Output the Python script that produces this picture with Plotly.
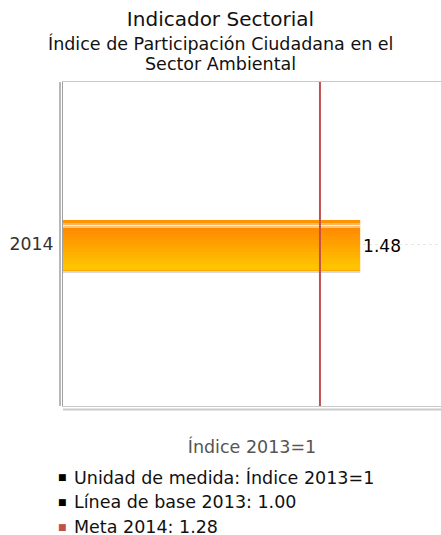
import plotly.graph_objects as go

# datos del indicador
years = ["2014"]
values = [1.48]
value_labels = ["1.48"]
meta_value = 1.28
axis_max = 1.883

title_main = "Indicador Sectorial"
title_sub = ["Índice de Participación Ciudadana en el", "Sector Ambiental"]
x_title = "Índice 2013=1"
notes = ["Unidad de medida: Índice 2013=1", "Línea de base 2013: 1.00", "Meta 2014: 1.28"]
note_colors = ["#000000", "#000000", "#c0504d"]

FONT = "DejaVu Sans"
BAR_W = 0.164
BAR_SHIFT = -0.0077


def mix(c1, c2, t):
    a = [int(c1[i:i + 2], 16) for i in (1, 3, 5)]
    b = [int(c2[i:i + 2], 16) for i in (1, 3, 5)]
    return "#%02x%02x%02x" % tuple(round(a[k] + (b[k] - a[k]) * t) for k in range(3))


# franjas de la barra (de arriba abajo), en pixeles de un total de 53
bands = [(4, "#ff9400"), (1, "#ffb860"), (2, "#fff2e0"), (1, "#ffc27a")]
n = 14
for i in range(n):
    bands.append((42 / n, mix("#ff8c00", "#ffc600", i / (n - 1))))
bands += [(1, "#ffa800"), (2, "#d9d9d9")]
total = sum(h for h, _ in bands)

fig = go.Figure()

# barra base con la etiqueta
fig.add_trace(go.Bar(
    x=values, y=years, orientation="h", width=BAR_W, offset=BAR_SHIFT - BAR_W / 2,
    marker=dict(color="#ffa500", line_width=0),
    text=value_labels, textposition="outside", cliponaxis=False,
    textfont=dict(family=FONT, size=17, color="#000000"),
    showlegend=False, hoverinfo="skip",
))

top = BAR_SHIFT + BAR_W / 2
for h, col in bands:
    w = BAR_W * h / total
    fig.add_trace(go.Bar(
        x=values, y=years, orientation="h", width=w, offset=top - w,
        marker=dict(color=col, line_width=0),
        showlegend=False, hoverinfo="skip",
    ))
    top -= w

fig.update_layout(
    width=441, height=535,
    margin=dict(l=63, r=0, t=82, b=129),
    barmode="overlay",
    plot_bgcolor="#ffffff", paper_bgcolor="#ffffff",
    font=dict(family=FONT, color="#333333"),
    showlegend=False,
    title=dict(text=title_main, x=0.5, xanchor="center", y=0.965, yanchor="middle",
               font=dict(family=FONT, size=20, color="#111111")),
)

fig.update_xaxes(
    range=[0, axis_max], showticklabels=False, ticks="", showgrid=False, zeroline=False,
    showline=True, mirror=True, linecolor="#c8c8c8", linewidth=1,
    title=dict(text=x_title, standoff=34, font=dict(family=FONT, size=17.5, color="#555555")),
)
fig.update_yaxes(
    range=[-0.5, 0.5], ticks="", showgrid=True, gridcolor="#e6e6e6", griddash="dot",
    showline=True, linecolor="#a0a0a0", linewidth=1, ticklabelstandoff=5,
    tickfont=dict(family=FONT, size=17.3, color="#333333"),
)

# línea de la meta
fig.add_vline(x=meta_value, line=dict(color="#c0504d", width=2), layer="above")

# bordes exteriores
fig.add_shape(type="line", xref="paper", yref="paper", xsizemode="pixel", xanchor=0,
              x0=-3, x1=-3, y0=0, y1=1, line=dict(color="#a0a0a0", width=1.5))
fig.add_shape(type="line", xref="paper", yref="paper", ysizemode="pixel", yanchor=0,
              x0=0, x1=1, y0=-3.5, y1=-3.5, line=dict(color="#cccccc", width=2))

# subtítulo
for i, line in enumerate(title_sub):
    fig.add_annotation(text=line, xref="paper", yref="paper", x=0.5 - 63 / 378 / 2,
                       xanchor="center", y=1, yanchor="middle", yshift=39 - 21 * i,
                       showarrow=False, font=dict(family=FONT, size=17.5, color="#111111"))

# notas
for i, (txt, col) in enumerate(zip(notes, note_colors)):
    fig.add_annotation(text="■", xref="paper", yref="paper", x=0, xanchor="left", xshift=-7,
                       y=0, yanchor="middle", yshift=-71 - 25 * i, showarrow=False,
                       font=dict(family=FONT, size=9, color=col))
    fig.add_annotation(text=txt, xref="paper", yref="paper", x=0, xanchor="left", xshift=9,
                       y=0, yanchor="middle", yshift=-71 - 25 * i, showarrow=False,
                       font=dict(family=FONT, size=17.5, color="#111111"))

fig.write_html("out.html", config={"displayModeBar": False},
               post_script="document.body.style.margin='0';")
